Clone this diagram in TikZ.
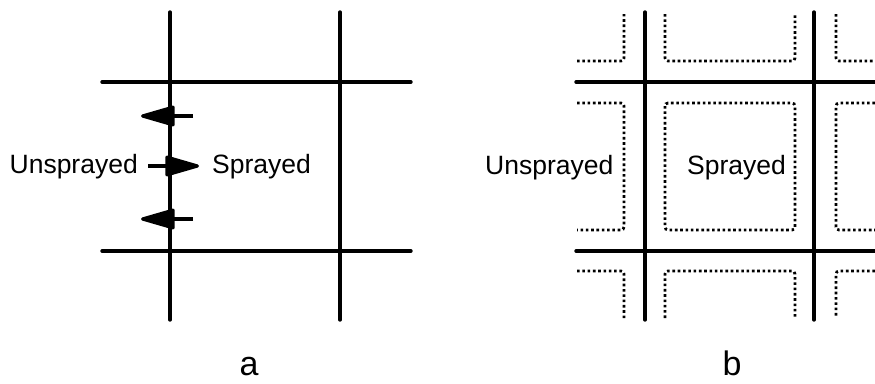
\documentclass[tikz,border=0pt]{standalone}
\usepackage{fontspec}
\setmainfont{Liberation Sans}
\usetikzlibrary{arrows.meta}
\begin{document}
\begin{tikzpicture}[
        x=1pt, y=-1pt,
        grid/.style={line width=3.4pt, line cap=round},
        edge/.style={line width=2.8pt, dash pattern=on 2.6pt off 2.7pt, rounded corners=3pt},
        flux/.style={line width=3.2pt, -{Triangle[length=38pt, width=21pt, round]}},
        txt/.style={inner sep=0pt, font=\fontsize{26.5}{30}\selectfont},
        panel/.style={inner sep=0pt, font=\fontsize{34}{40}\selectfont}
    ]
    \useasboundingbox (0,0) rectangle (875,383);

    % Panel a: field grid
    \draw[grid] (170,12) -- (170,320);
    \draw[grid] (340,12) -- (340,320);
    \draw[grid] (102,82) -- (411,82);
    \draw[grid] (102,251) -- (411,251);

    % Spray drift across the field edge
    \coordinate (upA) at (193,116);
    \coordinate (upB) at (141,116);
    \coordinate (midA) at (148,166);
    \coordinate (midB) at (199,166);
    \coordinate (lowA) at (193,219);
    \coordinate (lowB) at (141,219);
    \draw[flux] (upA) -- (upB);
    \draw[flux] (midA) -- (midB);
    \draw[flux] (lowA) -- (lowB);

    \node[txt, anchor=base east] (unsprA) at (138,173) {Unsprayed};
    \node[txt, anchor=base west] (sprA) at (212,173) {Sprayed};
    \node[panel, anchor=base] (capA) at (249,375) {a};

    % Panel b: field grid with buffer strips
    \draw[grid] (645,12) -- (645,320);
    \draw[grid] (814,12) -- (814,320);
    \draw[grid] (576,82) -- (875,82);
    \draw[grid] (576,251) -- (875,251);

    % Buffer strips (dotted)
    \draw[edge] (665,103) rectangle (795,230);
    \draw[edge] (665,14) -- (665,61) -- (795,61) -- (795,14);
    \draw[edge] (665,318) -- (665,271) -- (795,271) -- (795,318);
    \draw[edge] (577,61) -- (624,61) -- (624,14);
    \draw[edge] (577,103) -- (624,103) -- (624,230) -- (577,230);
    \draw[edge] (577,271) -- (624,271) -- (624,318);
    \draw[edge] (836,14) -- (836,61) -- (875,61);
    \draw[edge] (875,103) -- (836,103) -- (836,230) -- (875,230);
    \draw[edge] (875,271) -- (836,271) -- (836,318);

    \node[txt, anchor=base west] (unsprB) at (485,174) {Unsprayed};
    \node[txt, anchor=base west] (sprB) at (687,174) {Sprayed};
    \node[panel, anchor=base] (capB) at (732,375) {b};

\end{tikzpicture}
\end{document}
